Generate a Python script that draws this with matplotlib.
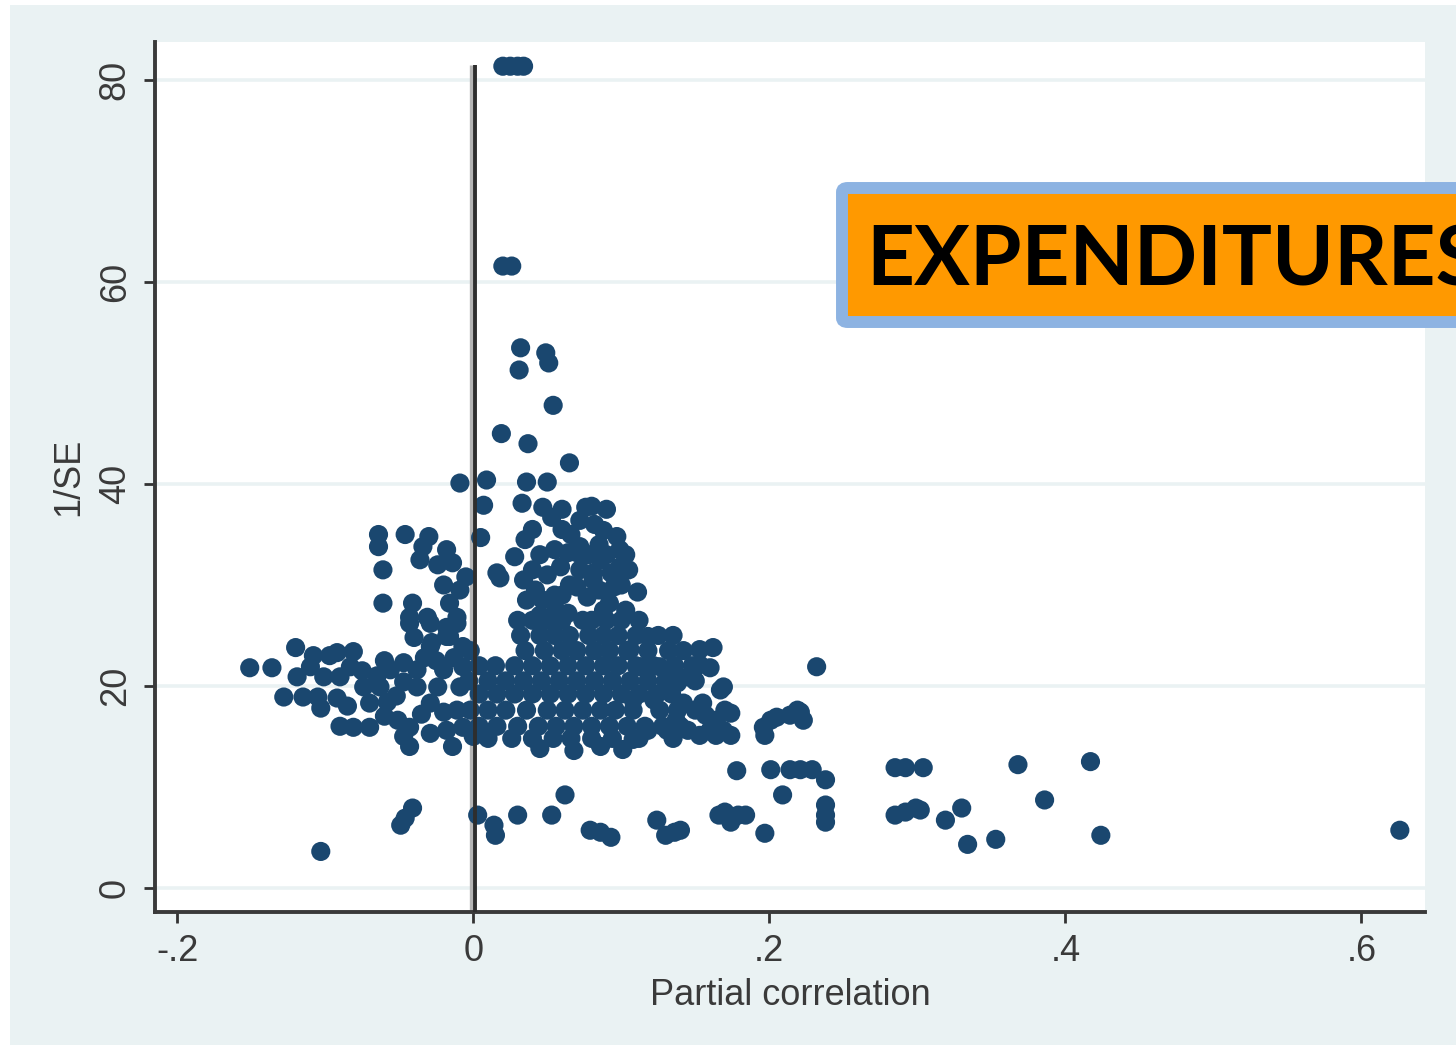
import numpy as np
import matplotlib
matplotlib.use('Agg')
import matplotlib.pyplot as plt
from matplotlib.patches import Rectangle, FancyBboxPatch

plt.rcParams['font.family'] = ['Liberation Sans Narrow', 'Liberation Sans', 'DejaVu Sans']

# (partial correlation, 1/SE) per estimate, grouped by area of the funnel
top_pts = [
    (0.020, 81.4), (0.025, 81.4), (0.030, 81.4), (0.034, 81.4),
    (0.020, 61.6), (0.026, 61.6),
    (0.032, 53.5), (0.031, 51.3), (0.049, 53.0), (0.051, 52.0),
    (0.054, 47.8), (0.019, 45.0), (0.037, 44.0), (0.065, 42.1),
]

upper_pts = [
    (-0.009, 40.1), (0.009, 40.4), (0.007, 37.9), (0.005, 34.7), (0.036, 40.2),
    (0.050, 40.2), (0.033, 38.1), (0.047, 37.7), (0.053, 36.7), (0.035, 34.5),
    (0.028, 32.8), (0.016, 31.2), (0.018, 30.7), (0.076, 37.7), (0.072, 36.4),
    (0.088, 35.4), (0.097, 34.8), (0.099, 33.5), (0.099, 31.8), (0.086, 32.5),
    (0.072, 33.8), (0.064, 33.2), (0.072, 31.5), (0.081, 30.5), (0.077, 28.8),
    (0.111, 29.3), (0.064, 27.2), (0.074, 26.5), (0.059, 31.8), (0.070, 33.2),
    (0.081, 31.2), (0.093, 31.2), (0.070, 29.8), (0.047, 28.5), (0.036, 28.5),
    (0.034, 30.5), (0.042, 29.5), (0.055, 29.0), (0.060, 35.5), (0.045, 33.0),
    (0.090, 37.5), (0.082, 36.0), (0.103, 33.0), (0.095, 29.8),
    (0.040, 35.5), (0.055, 33.5), (0.065, 30.0), (0.085, 34.0), (0.090, 33.0),
    (0.060, 37.5), (0.050, 31.0), (0.040, 31.5), (0.105, 31.5), (0.100, 30.0),
    (0.085, 29.5), (0.056, 27.5), (0.045, 27.0), (0.092, 28.2), (0.103, 27.5),
    (0.080, 37.8), (0.066, 35.0), (0.078, 33.0), (0.060, 29.0), (0.088, 27.5),
]

upper_left_pts = [
    (-0.064, 35.0), (-0.064, 33.8), (-0.061, 31.5), (-0.061, 28.2), (-0.046, 35.0),
    (-0.030, 34.8), (-0.034, 33.8), (-0.018, 33.5), (-0.014, 32.2), (-0.036, 32.5),
    (-0.024, 32.0), (-0.009, 29.5), (-0.016, 28.2), (-0.011, 26.8), (-0.018, 25.8),
    (-0.041, 28.2), (-0.043, 26.8), (-0.031, 26.8), (-0.018, 24.9), (-0.005, 30.8),
    (-0.020, 30.0), (-0.028, 24.3), (-0.040, 24.8),
]

left_pts = [
    (-0.151, 21.8), (-0.136, 21.8), (-0.120, 23.8), (-0.128, 18.9), (-0.110, 21.9),
    (-0.105, 18.9), (-0.103, 17.8), (-0.092, 23.3), (-0.081, 23.4), (-0.090, 20.9),
    (-0.092, 18.8), (-0.115, 18.9), (-0.119, 20.9), (-0.101, 20.9), (-0.083, 21.9),
    (-0.081, 15.9), (-0.070, 15.9), (-0.074, 19.9), (-0.063, 19.9), (-0.070, 18.3),
    (-0.058, 18.4), (-0.047, 22.3), (-0.047, 20.4), (-0.051, 16.6), (-0.047, 15.0),
    (-0.043, 14.0), (-0.038, 19.9), (-0.029, 18.3), (-0.024, 19.9), (-0.029, 15.3),
    (-0.014, 14.0), (-0.007, 15.9), (-0.011, 17.6), (-0.009, 19.9), (-0.029, 23.9),
    (-0.016, 24.9), (-0.007, 23.9), (-0.043, 26.2), (-0.029, 26.2), (-0.011, 26.2),
    (-0.038, 21.6), (-0.020, 21.6), (-0.007, 21.9), (-0.056, 21.6), (-0.018, 15.6),
    (-0.043, 15.9), (-0.060, 17.0), (-0.035, 17.2), (-0.020, 17.4), (-0.090, 16.0),
    (-0.097, 23.0),
    (-0.108, 23.0), (-0.085, 18.0), (-0.075, 21.5), (-0.065, 21.0), (-0.060, 22.5),
    (-0.052, 19.0), (-0.033, 22.8), (-0.025, 22.5), (-0.013, 22.8),
]

core_pts = [
    (0.030, 26.5), (0.040, 26.5), (0.050, 26.5), (0.060, 26.5), (0.080, 26.5),
    (0.090, 26.5), (0.100, 26.5), (0.112, 26.5),
    (0.032, 25.0), (0.045, 25.0), (0.055, 25.0), (0.065, 25.0), (0.078, 25.0),
    (0.088, 25.0), (0.098, 25.0), (0.110, 25.0), (0.125, 25.0), (0.135, 25.0),
    (-0.002, 23.5), (0.035, 23.5), (0.048, 23.5), (0.060, 23.5), (0.070, 23.5),
    (0.082, 23.5), (0.092, 23.5), (0.104, 23.5), (0.118, 23.5), (0.132, 23.5),
    (0.142, 23.5),
    (0.004, 22.0), (0.015, 22.0), (0.028, 22.0), (0.040, 22.0), (0.052, 22.0),
    (0.064, 22.0), (0.076, 22.0), (0.088, 22.0), (0.098, 22.0), (0.110, 22.0),
    (0.122, 22.0), (0.136, 22.0), (0.148, 22.0),
    (-0.003, 20.5), (0.010, 20.5), (0.022, 20.5), (0.034, 20.5), (0.046, 20.5),
    (0.058, 20.5), (0.070, 20.5), (0.082, 20.5), (0.094, 20.5), (0.106, 20.5),
    (0.118, 20.5), (0.130, 20.5), (0.150, 20.5),
    (0.004, 19.2), (0.016, 19.2), (0.028, 19.2), (0.040, 19.2), (0.052, 19.2),
    (0.064, 19.2), (0.076, 19.2), (0.088, 19.2), (0.100, 19.2), (0.112, 19.2),
    (0.124, 19.2), (0.134, 19.2),
    (-0.002, 17.6), (0.010, 17.6), (0.022, 17.6), (0.036, 17.6), (0.050, 17.6),
    (0.062, 17.6), (0.074, 17.6), (0.086, 17.6), (0.096, 17.6), (0.108, 17.6),
    (0.126, 17.6), (0.138, 17.6), (0.150, 17.6),
    (0.004, 16.0), (0.016, 16.0), (0.030, 16.0), (0.044, 16.0), (0.056, 16.0),
    (0.068, 16.0), (0.080, 16.0), (0.092, 16.0), (0.104, 16.0), (0.116, 16.0),
    (0.128, 16.0), (0.140, 16.0),
    (0.010, 14.8), (0.026, 14.8), (0.040, 14.8), (0.054, 14.8), (0.066, 14.8),
    (0.080, 14.8), (0.094, 14.8), (0.112, 14.8), (0.135, 14.8),
    (0.045, 13.8), (0.068, 13.6), (0.086, 14.0), (0.000, 15.0), (0.008, 15.2),
]

tail_pts = [
    (0.118, 24.9), (0.162, 23.8), (0.160, 21.8), (0.169, 19.9), (0.145, 20.9),
    (0.142, 18.3), (0.155, 18.3), (0.174, 17.3), (0.169, 15.6), (0.160, 15.6),
    (0.145, 15.6), (0.131, 15.6), (0.118, 15.6), (0.108, 14.7), (0.101, 13.7),
    (0.122, 18.6), (0.108, 18.6), (0.126, 21.9), (0.113, 21.9), (0.106, 23.6),
    (0.138, 20.3), (0.196, 15.9), (0.205, 16.9), (0.219, 17.6), (0.223, 16.6),
    (0.232, 21.9), (0.153, 23.6), (0.197, 15.1), (0.214, 17.1),
    (0.153, 22.1), (0.167, 19.6), (0.170, 17.6), (0.157, 17.1), (0.164, 16.6),
    (0.153, 15.1), (0.164, 15.1), (0.174, 15.1), (0.137, 16.6), (0.201, 16.6),
    (0.221, 17.4),
]

low_pts = [
    (-0.103, 3.6), (-0.049, 6.2), (-0.046, 6.9), (-0.041, 7.9), (0.003, 7.2),
    (0.014, 6.2), (0.015, 5.2), (0.030, 7.2), (0.053, 7.2), (0.062, 9.2),
    (0.079, 5.7), (0.086, 5.5), (0.093, 5.0), (0.124, 6.7), (0.130, 5.2),
    (0.136, 5.5), (0.140, 5.7), (0.166, 7.2), (0.170, 7.5), (0.174, 6.5),
    (0.179, 7.2), (0.184, 7.2), (0.178, 11.6), (0.197, 5.4), (0.201, 11.7),
    (0.209, 9.2), (0.214, 11.7), (0.221, 11.7), (0.229, 11.7), (0.238, 10.7),
    (0.238, 8.2), (0.238, 7.2), (0.238, 6.5), (0.285, 11.9), (0.292, 11.9),
    (0.304, 11.9), (0.285, 7.2), (0.292, 7.5), (0.299, 7.9), (0.302, 7.7),
    (0.319, 6.7), (0.330, 7.9), (0.334, 4.3), (0.353, 4.8), (0.368, 12.2),
    (0.386, 8.7), (0.417, 12.5), (0.424, 5.2), (0.626, 5.7),
]

x_ticks = [-0.2, 0, 0.2, 0.4, 0.6]
x_labels = ['-.2', '0', '.2', '.4', '.6']
y_ticks = [0, 20, 40, 60, 80]

pts = np.array(top_pts + upper_pts + upper_left_pts + left_pts
               + core_pts + tail_pts + low_pts)

W, H = 1456, 1052
fig = plt.figure(figsize=(W / 100, H / 100), dpi=100)
fig.patch.set_facecolor('white')
fig.add_artist(Rectangle((10 / W, 1 - 1045 / H), (W - 10) / W, 1040 / H,
                         transform=fig.transFigure, facecolor='#EAF2F3',
                         edgecolor='none', zorder=-1))

ax = fig.add_axes([155 / W, 1 - 912 / H, 1270 / W, 870 / H])
ax.set_facecolor('white')

ax.scatter(pts[:, 0], pts[:, 1], s=190, c='#1A476F', edgecolors='none', zorder=3)

# reference line at zero effect
ax.vlines(-0.0018, -2.4, 81.5, color='#b5b5b5', linewidth=2.4, zorder=2)
ax.vlines(0.0012, -2.4, 81.5, color='#2e2e2e', linewidth=2.8, zorder=4)

ax.set_xlim(-0.215, 0.643)
ax.set_ylim(-2.4, 83.8)

ax.set_xticks(x_ticks)
ax.set_xticklabels(x_labels)
ax.set_yticks(y_ticks)
ax.yaxis.grid(True, color='#EAF2F3', linewidth=2.6)
ax.set_axisbelow(True)

for side in ['top', 'right']:
    ax.spines[side].set_visible(False)
for side in ['left', 'bottom']:
    ax.spines[side].set_color('#3a3a3a')
    ax.spines[side].set_linewidth(2.8)

ax.tick_params(axis='both', direction='out', length=8, width=2, color='#333333',
               labelsize=26, labelcolor='#3a3a3a', pad=8)
ax.tick_params(axis='y', labelrotation=90)
for lab in ax.get_yticklabels():
    lab.set_va('center')

ax.set_xlabel('Partial correlation', fontsize=26, color='#3a3a3a', labelpad=6)
ax.set_ylabel('1/SE', fontsize=26, color='#3a3a3a', labelpad=8)

# label box, runs off the right edge
fig.add_artist(FancyBboxPatch((842 / W, 1 - 322 / H), (1540 - 842) / W, 134 / H,
                              boxstyle='round,pad=0,rounding_size=0.004',
                              transform=fig.transFigure, facecolor='#FF9900',
                              edgecolor='#8DB3E2', linewidth=8.6, zorder=5))
fig.text(866 / W, 1 - 286 / H, 'EXPENDITURES', fontsize=60, fontweight='bold',
         family=['Lato', 'DejaVu Sans'], color='black', ha='left', va='baseline',
         zorder=6)

fig.savefig('out.png', dpi=100)
